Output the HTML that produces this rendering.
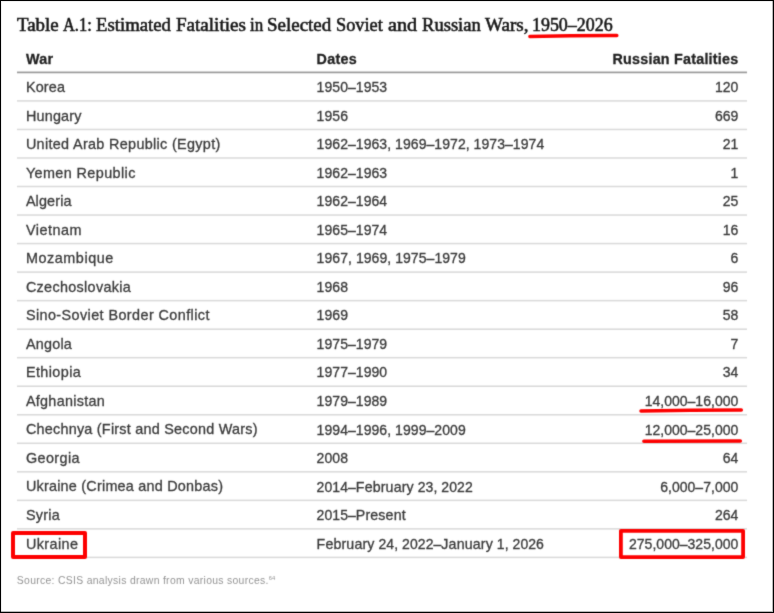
<!DOCTYPE html>
<html><head><meta charset="utf-8"><title>Table A.1</title>
<style>
html,body{margin:0;padding:0;}
body{width:774px;height:613px;position:relative;overflow:hidden;background:#fff;font-family:"Liberation Sans",sans-serif;}
.frame{position:absolute;left:0;top:0;width:774px;height:613px;box-sizing:border-box;border:1px solid #000;z-index:5;pointer-events:none;box-shadow:inset -1px -1px 0 0 rgba(0,0,0,0.28), inset 1px 1px 0 0 rgba(0,0,0,0.06);}
.content{position:absolute;left:0;top:0;width:774px;height:613px;filter:url(#bl);}
.title{position:absolute;left:17px;top:12.1px;width:620px;height:26px;font-family:"Liberation Serif",serif;font-size:18px;line-height:26px;color:#161616;white-space:nowrap;-webkit-text-stroke:0.55px #161616;}
.title span{position:absolute;top:0;transform-origin:0 0;display:block;}
.t{position:absolute;white-space:nowrap;line-height:20px;color:#3a3a3a;-webkit-text-stroke:0.3px #3a3a3a;}
.a{font-size:14.4px;letter-spacing:0.23px;left:25.9px;}
.d{font-size:14.0px;letter-spacing:0.06px;left:316.6px;}
.w{font-size:14.2px;letter-spacing:0.15px;}
.r{font-size:14.0px;letter-spacing:0.02px;right:35.7px;text-align:right;}
.h{font-weight:bold;color:#222;font-size:14.3px;letter-spacing:0.3px;-webkit-text-stroke:0.3px #222;}
.h.r{right:35.6px;letter-spacing:0.24px;}
.src{position:absolute;left:16.8px;top:574.2px;font-size:10.4px;line-height:14px;color:#949494;white-space:nowrap;letter-spacing:0.31px;}
.src sup{font-size:5.8px;vertical-align:3.6px;line-height:0;letter-spacing:0;}
svg{position:absolute;left:0;top:0;z-index:3;}
</style></head><body>
<svg width="0" height="0" style="position:absolute"><filter id="bl" x="0" y="0" width="100%" height="100%" color-interpolation-filters="sRGB"><feConvolveMatrix order="3" kernelMatrix="0.02 0.09 0.02 0.09 0.56 0.09 0.02 0.09 0.02" edgeMode="duplicate" preserveAlpha="false"/></filter></svg>
<div class="content">
<div class="title"><span style="left:0.10px;transform:scaleX(1.05)">Table</span> <span style="left:46.00px;transform:scaleX(0.9133)">A.1:</span> <span style="left:78.70px;transform:scaleX(1.0403)">Estimated</span> <span style="left:158.70px;transform:scaleX(1.0591)">Fatalities</span> <span style="left:232.90px;transform:scaleX(0.9429)">in</span> <span style="left:250.45px;transform:scaleX(1.0533)">Selected</span> <span style="left:318.78px;transform:scaleX(1.0156)">Soviet</span> <span style="left:370.50px;transform:scaleX(1.1192)">and</span> <span style="left:404.80px;transform:scaleX(1.0316)">Russian</span> <span style="left:467.50px;transform:scaleX(1.0575)">Wars,</span> <span style="left:515.30px;transform:scaleX(0.995)">1950–2026</span></div>

<div class="t h a" style="top:48.67px">War</div>
<div class="t h d" style="top:48.67px">Dates</div>
<div class="t h r" style="top:48.67px">Russian Fatalities</div>
<div class="t a" id="a0" style="top:77.04px;letter-spacing:0.151px">Korea</div>
<div class="t d" style="top:77.17px">1950–1953</div>
<div class="t r" style="top:77.17px">120</div>
<div class="t a" id="a1" style="top:105.57px;letter-spacing:0.201px">Hungary</div>
<div class="t d" style="top:105.70px">1956</div>
<div class="t r" style="top:105.70px">669</div>
<div class="t a" id="a2" style="top:134.10px;letter-spacing:0.327px">United Arab Republic (Egypt)</div>
<div class="t d" style="top:134.23px">1962–1963, 1969–1972, 1973–1974</div>
<div class="t r" style="top:134.23px">21</div>
<div class="t a" id="a3" style="top:162.63px;letter-spacing:0.402px">Yemen Republic</div>
<div class="t d" style="top:162.76px">1962–1963</div>
<div class="t r" style="top:162.76px">1</div>
<div class="t a" id="a4" style="top:191.16px;letter-spacing:0.135px">Algeria</div>
<div class="t d" style="top:191.29px">1962–1964</div>
<div class="t r" style="top:191.29px">25</div>
<div class="t a" id="a5" style="top:219.69px;letter-spacing:0.510px">Vietnam</div>
<div class="t d" style="top:219.82px">1965–1974</div>
<div class="t r" style="top:219.82px">16</div>
<div class="t a" id="a6" style="top:248.22px;letter-spacing:0.558px">Mozambique</div>
<div class="t d" style="top:248.35px">1967, 1969, 1975–1979</div>
<div class="t r" style="top:248.35px">6</div>
<div class="t a" id="a7" style="top:276.75px;letter-spacing:0.316px">Czechoslovakia</div>
<div class="t d" style="top:276.88px">1968</div>
<div class="t r" style="top:276.88px">96</div>
<div class="t a" id="a8" style="top:305.28px;letter-spacing:0.413px">Sino-Soviet Border Conflict</div>
<div class="t d" style="top:305.41px">1969</div>
<div class="t r" style="top:305.41px">58</div>
<div class="t a" id="a9" style="top:333.81px;letter-spacing:0.219px">Angola</div>
<div class="t d" style="top:333.94px">1975–1979</div>
<div class="t r" style="top:333.94px">7</div>
<div class="t a" id="a10" style="top:362.34px;letter-spacing:0.413px">Ethiopia</div>
<div class="t d" style="top:362.47px">1977–1990</div>
<div class="t r" style="top:362.47px">34</div>
<div class="t a" id="a11" style="top:390.87px;letter-spacing:0.289px">Afghanistan</div>
<div class="t d" style="top:391.00px">1979–1989</div>
<div class="t r" style="top:391.00px">14,000–16,000</div>
<div class="t a" id="a12" style="top:419.40px;letter-spacing:0.238px">Chechnya (First and Second Wars)</div>
<div class="t d" style="top:419.53px">1994–1996, 1999–2009</div>
<div class="t r" style="top:419.53px">12,000–25,000</div>
<div class="t a" id="a13" style="top:447.93px;letter-spacing:0.418px">Georgia</div>
<div class="t d" style="top:448.06px">2008</div>
<div class="t r" style="top:448.06px">64</div>
<div class="t a" id="a14" style="top:476.46px;letter-spacing:0.229px">Ukraine (Crimea and Donbas)</div>
<div class="t d" style="top:476.59px">2014–<span class=w>February</span> 23, 2022</div>
<div class="t r" style="top:476.59px">6,000–7,000</div>
<div class="t a" id="a15" style="top:504.99px;letter-spacing:0.278px">Syria</div>
<div class="t d" style="top:505.12px">2015–<span class=w>Present</span></div>
<div class="t r" style="top:505.12px">264</div>
<div class="t a" id="a16" style="top:533.52px;letter-spacing:0.403px">Ukraine</div>
<div class="t d" style="top:533.65px"><span class=w>February</span> 24, 2022–<span class=w>January</span> 1, 2026</div>
<div class="t r" style="top:533.65px">275,000–325,000</div>
<div class="src">Source: CSIS analysis drawn from various sources.<sup>64</sup></div>
<svg width="774" height="613" viewBox="0 0 774 613" style="z-index:1"><rect x="17" y="71.55" width="730" height="1.7" fill="#9a9a9a"/><rect x="17" y="100.18" width="730" height="1.5" fill="#d9d9d9"/><rect x="17" y="128.71" width="730" height="1.5" fill="#d9d9d9"/><rect x="17" y="157.24" width="730" height="1.5" fill="#d9d9d9"/><rect x="17" y="185.77" width="730" height="1.5" fill="#d9d9d9"/><rect x="17" y="214.30" width="730" height="1.5" fill="#d9d9d9"/><rect x="17" y="242.83" width="730" height="1.5" fill="#d9d9d9"/><rect x="17" y="271.36" width="730" height="1.5" fill="#d9d9d9"/><rect x="17" y="299.89" width="730" height="1.5" fill="#d9d9d9"/><rect x="17" y="328.42" width="730" height="1.5" fill="#d9d9d9"/><rect x="17" y="356.95" width="730" height="1.5" fill="#d9d9d9"/><rect x="17" y="385.48" width="730" height="1.5" fill="#d9d9d9"/><rect x="17" y="414.01" width="730" height="1.5" fill="#d9d9d9"/><rect x="17" y="442.54" width="730" height="1.5" fill="#d9d9d9"/><rect x="17" y="471.07" width="730" height="1.5" fill="#d9d9d9"/><rect x="17" y="499.60" width="730" height="1.5" fill="#d9d9d9"/><rect x="17" y="528.13" width="730" height="1.5" fill="#d9d9d9"/><rect x="17" y="556.66" width="730" height="1.5" fill="#d9d9d9"/></svg>
<svg width="774" height="613" viewBox="0 0 774 613" fill="none" stroke="#fd0000" stroke-width="3.1" stroke-linecap="round" stroke-linejoin="round">
<path d="M529.8 36.5 Q575 35.4 616.9 35.5" stroke-width="3.3"/>
<path d="M641 410.9 Q690 410.1 741.3 409.9" stroke-width="3.5"/>
<path d="M643.9 441.2 L740.3 441.0" stroke-width="3.6"/>
<rect x="13" y="533" width="72" height="24" stroke-width="4"/>
<rect x="620.9" y="530.8" width="122.2" height="26.3" stroke-width="3.8"/>
</svg>
</div>
<div class="frame"></div>
</body></html>
